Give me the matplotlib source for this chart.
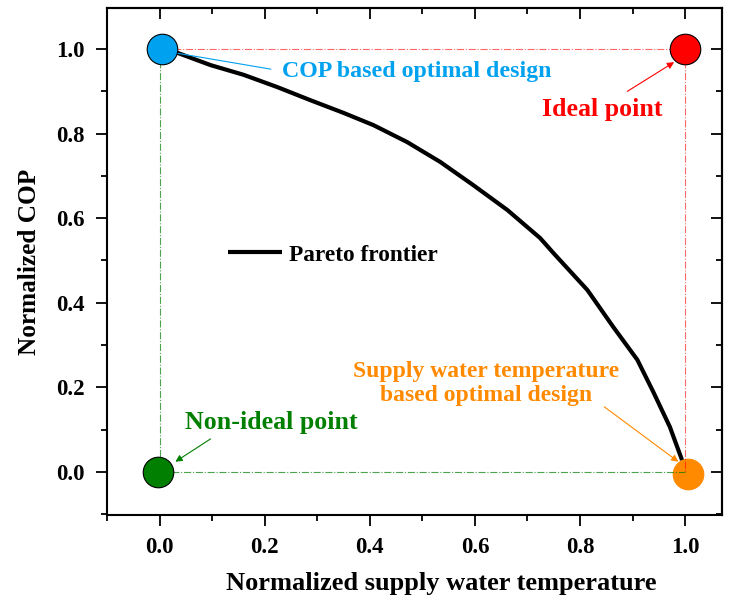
import numpy as np
import matplotlib.pyplot as plt
from matplotlib.ticker import MultipleLocator

plt.rcParams['font.family'] = ['Liberation Serif', 'DejaVu Serif']
plt.rcParams['font.weight'] = 'bold'

# Pareto frontier (normalized supply water temperature vs normalized COP)
pareto_x = [0.0, 0.034, 0.097, 0.160, 0.224, 0.287, 0.350, 0.407, 0.471, 0.534,
            0.597, 0.662, 0.724, 0.749, 0.814, 0.863, 0.909, 0.939, 0.971, 0.994]
pareto_y = [1.0, 0.991, 0.962, 0.939, 0.910, 0.879, 0.849, 0.820, 0.780, 0.733,
            0.678, 0.619, 0.553, 0.518, 0.430, 0.343, 0.265, 0.190, 0.106, 0.028]

# special points
cop_opt = (0.005, 1.0)
ideal = (1.0, 1.0)
non_ideal = (-0.003, 0.0)
swt_opt = (1.005, -0.005)

c_blue = '#00A2F0'
c_red = '#FF0000'
c_green = '#007F00'
c_orange = '#FF8A00'

fig = plt.figure(figsize=(7.30, 5.99), dpi=100)
ax = fig.add_axes([0.1466, 0.1402, 0.8424, 0.8464])

# guide lines between the corner points
ax.plot([cop_opt[0], ideal[0]], [1.0, 1.0], color=c_red, lw=0.8, ls='-.', alpha=0.6, zorder=2)
ax.plot([ideal[0], ideal[0]], [1.0, 0.0], color=c_red, lw=0.8, ls='-.', alpha=0.6, zorder=2)
ax.plot([0.0, 0.0], [1.0, 0.0], color=c_green, lw=0.8, ls='-.', alpha=0.7, zorder=2)
ax.plot([0.0, 1.0], [0.0, 0.0], color=c_green, lw=0.8, ls='-.', alpha=0.7, zorder=2)

ax.plot(pareto_x, pareto_y, color='black', lw=3, label='Pareto frontier', zorder=3,
        solid_capstyle='butt', solid_joinstyle='round')

ms = 22
ax.plot(*cop_opt, 'o', ms=ms, mfc=c_blue, mec='black', mew=0.8, zorder=4)
ax.plot(*ideal, 'o', ms=ms, mfc=c_red, mec='black', mew=0.8, zorder=4)
ax.plot(*non_ideal, 'o', ms=ms, mfc=c_green, mec='black', mew=0.8, zorder=4)
ax.plot(*swt_opt, 'o', ms=ms, mfc=c_orange, mec=c_orange, mew=0.8, zorder=1)

ax.annotate('COP based optimal design', xy=(0.034, 0.99), xytext=(0.489, 0.948),
            color=c_blue, fontsize=17.2, fontweight='bold', ha='center', va='center',
            arrowprops=dict(arrowstyle='-', color=c_blue, lw=0.8, shrinkA=6, shrinkB=0,
                            relpos=(0.0, 0.5)))
ax.text(0.842, 0.856, 'Ideal point', color=c_red, fontsize=18.6, fontweight='bold',
        ha='center', va='center')
ax.annotate('', xy=(0.979, 0.969), xytext=(0.890, 0.900),
            arrowprops=dict(arrowstyle='-|>', color=c_red, lw=0.8, mutation_scale=10,
                            shrinkA=0, shrinkB=0))
ax.text(0.213, 0.116, 'Non-ideal point', color=c_green, fontsize=18.6, fontweight='bold',
        ha='center', va='center')
ax.annotate('', xy=(0.030, 0.024), xytext=(0.097, 0.078),
            arrowprops=dict(arrowstyle='-|>', color=c_green, lw=0.8, mutation_scale=10,
                            shrinkA=0, shrinkB=0))
ax.text(0.622, 0.209, 'Supply water temperature\nbased optimal design', color=c_orange,
        fontsize=17, fontweight='bold', ha='center', va='center', linespacing=1.2)
ax.annotate('', xy=(0.987, 0.024), xytext=(0.846, 0.154),
            arrowprops=dict(arrowstyle='-|>', color=c_orange, lw=0.8, mutation_scale=10,
                            shrinkA=0, shrinkB=0))

leg = ax.legend(loc='center left', bbox_to_anchor=(0.197, 0.513), frameon=False,
                fontsize=16.8, handlelength=2.3, handletextpad=0.3, borderpad=0,
                borderaxespad=0)

ax.set_xlim(-0.1, 1.07)
ax.set_ylim(-0.102, 1.097)
ax.xaxis.set_major_locator(MultipleLocator(0.2))
ax.xaxis.set_minor_locator(MultipleLocator(0.1))
ax.yaxis.set_major_locator(MultipleLocator(0.2))
ax.yaxis.set_minor_locator(MultipleLocator(0.1))
ax.xaxis.set_major_formatter(plt.FormatStrFormatter('%.1f'))
ax.yaxis.set_major_formatter(plt.FormatStrFormatter('%.1f'))

ax.tick_params(which='both', direction='out', top=False, right=False, width=1.3,
               labelsize=16.5)
ax.tick_params(which='major', length=8, pad=8)
ax.tick_params(which='minor', length=4)
for s in ax.spines.values():
    s.set_linewidth(1.5)

# mirrored ticks pointing inward on top and right
sx = ax.secondary_xaxis('top')
sx.xaxis.set_major_locator(MultipleLocator(0.2))
sx.xaxis.set_minor_locator(MultipleLocator(0.1))
sx.tick_params(which='both', direction='in', width=1.3, labeltop=False)
sx.tick_params(which='major', length=8)
sx.tick_params(which='minor', length=4)
sy = ax.secondary_yaxis('right')
sy.yaxis.set_major_locator(MultipleLocator(0.2))
sy.yaxis.set_minor_locator(MultipleLocator(0.1))
sy.tick_params(which='both', direction='in', width=1.3, labelright=False)
sy.tick_params(which='major', length=8)
sy.tick_params(which='minor', length=4)
sx.spines['top'].set_linewidth(1.5)
sy.spines['right'].set_linewidth(1.5)

ax.set_xlabel('Normalized supply water temperature', fontsize=19, fontweight='bold')
ax.xaxis.set_label_coords(0.543, -0.112)
ax.set_ylabel('Normalized COP', fontsize=18.2, fontweight='bold')
ax.yaxis.set_label_coords(-0.107, 0.5)

fig.savefig('out.png', dpi=100)
